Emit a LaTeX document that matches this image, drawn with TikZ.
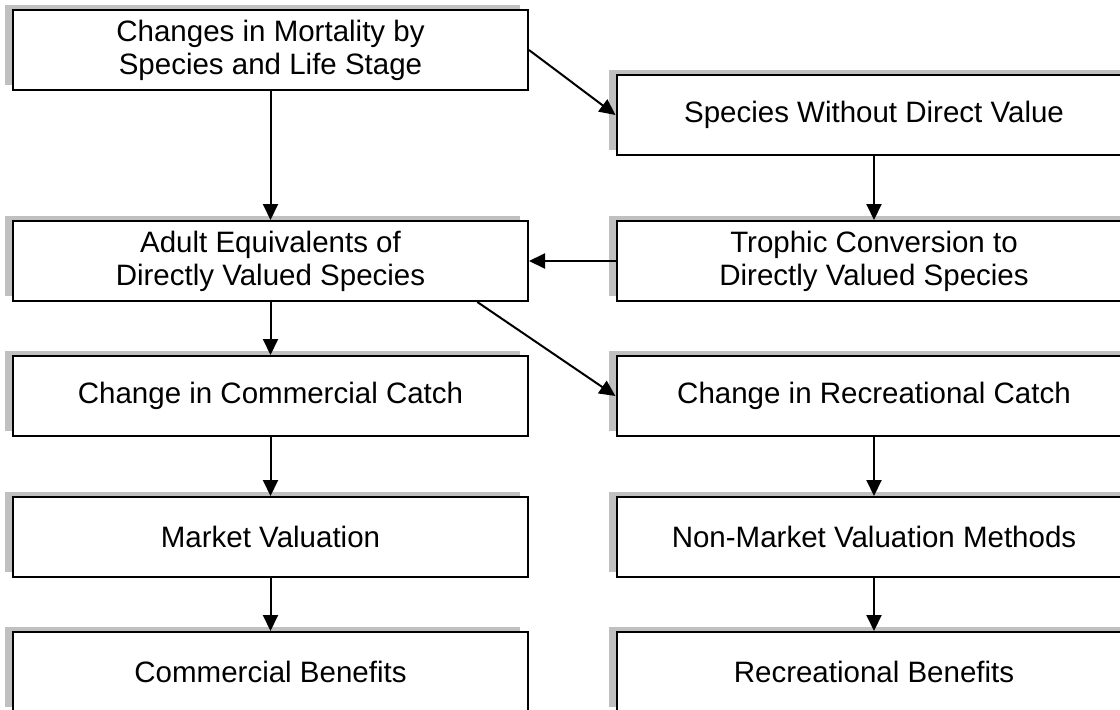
\documentclass[tikz,border=0pt]{standalone}
\usepackage{fontspec}
\setmainfont{Liberation Sans}
\usetikzlibrary{arrows.meta,shadows,calc}
\definecolor{shadowgray}{RGB}{192,192,192}
\tikzset{
	stagebox/.style={draw,line width=2pt,fill=white,minimum width=515pt,minimum height=80pt,
		align=center,inner sep=0pt,
		drop shadow={shadow xshift=-8pt,shadow yshift=5pt,fill=shadowgray,opacity=1}},
	flow/.style={->,line width=2pt}
}
\begin{document}
\begin{tikzpicture}[x=1pt,y=-1pt,font=\fontsize{29.5}{33}\selectfont,>={Triangle[length=16pt,width=15pt]}]
			\useasboundingbox (0,0) rectangle (1120,710);
			% left column
			\node[stagebox] (mort) at (270.5,50) {Changes in Mortality by\\Species and Life Stage};
			\node[stagebox] (adult) at (270.5,261) {Adult Equivalents of\\Directly Valued Species};
			\node[stagebox] (comcatch) at (270.5,396) {Change in Commercial Catch};
			\node[stagebox] (market) at (270.5,537) {Market Valuation};
			\node[stagebox] (combenefit) at (270.5,672) {Commercial Benefits};
			% right column
			\node[stagebox] (nodirect) at (874,115) {Species Without Direct Value};
			\node[stagebox] (trophic) at (874,261) {Trophic Conversion to\\Directly Valued Species};
			\node[stagebox] (reccatch) at (874,396) {Change in Recreational Catch};
			\node[stagebox] (nonmarket) at (874,537) {Non-Market Valuation Methods};
			\node[stagebox] (recbenefit) at (874,672) {Recreational Benefits};
			\coordinate (split) at ($(adult.south east)!0.2!(adult.south)$);
			% connectors
			\draw[flow] (mort) -- (adult);
			\draw[flow] (mort.east) -- (nodirect.west);
			\draw[flow] (nodirect) -- (trophic);
			\draw[flow] (trophic) -- (adult);
			\draw[flow] (adult) -- (comcatch);
			\draw[flow] (split) -- (reccatch.west);
			\draw[flow] (comcatch) -- (market);
			\draw[flow] (market) -- (combenefit);
			\draw[flow] (reccatch) -- (nonmarket);
			\draw[flow] (nonmarket) -- (recbenefit);
\end{tikzpicture}
\end{document}
